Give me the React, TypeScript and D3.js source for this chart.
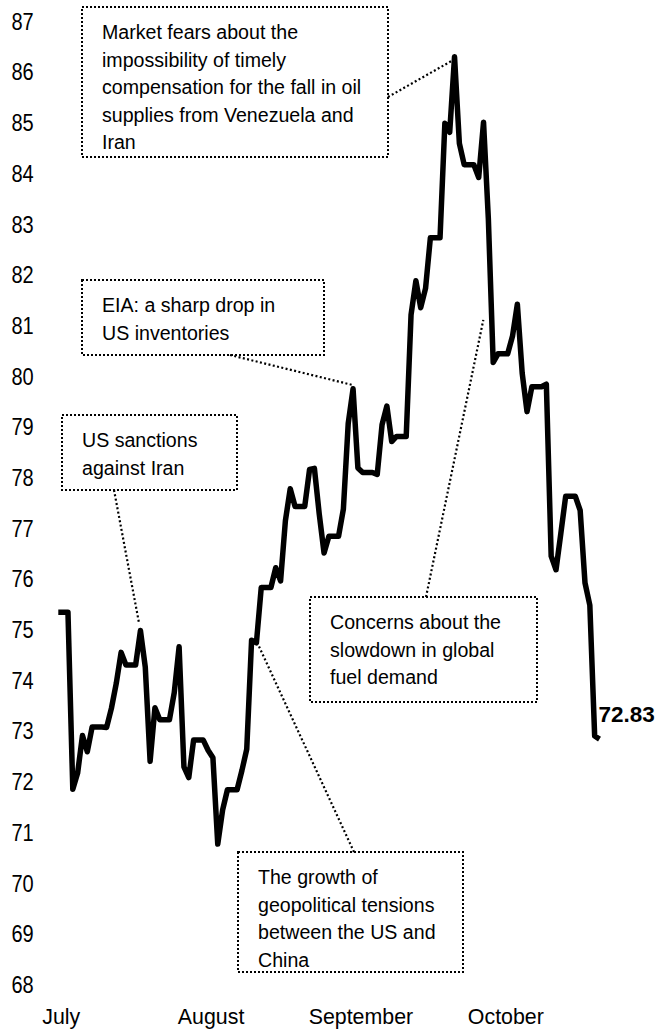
import React from "react";
import * as d3 from "d3";

// ---- data ----
const START_DATE = "2018-07-13"; // first point, one value per calendar day
const prices: number[] = [
  75.33, 75.33, 75.33, 71.84, 72.16, 72.9, 72.58, 73.07, 73.07, 73.07,
  73.06, 73.44, 73.93, 74.54, 74.29, 74.29, 74.29, 74.97, 74.25, 72.39,
  73.45, 73.21, 73.21, 73.21, 73.75, 74.65, 72.28, 72.07, 72.81, 72.81,
  72.81, 72.61, 72.46, 70.76, 71.43, 71.83, 71.83, 71.83, 72.21, 72.63,
  74.78, 74.73, 75.82, 75.82, 75.82, 76.21, 75.95, 77.14, 77.77, 77.42,
  77.42, 77.42, 78.15, 78.17, 77.27, 76.5, 76.83, 76.83, 76.83, 77.37,
  79.06, 79.74, 78.18, 78.09, 78.09, 78.09, 78.05, 79.03, 79.4, 78.7,
  78.8, 78.8, 78.8, 81.2, 81.87, 81.34, 81.72, 82.72, 82.72, 82.72,
  84.98, 84.8, 86.29, 84.58, 84.16, 84.16, 84.16, 83.91, 85.0, 83.09,
  80.26, 80.43, 80.43, 80.43, 80.78, 81.41, 80.05, 79.29, 79.78, 79.78,
  79.78, 79.83, 76.44, 76.17, 76.89, 77.62, 77.62, 77.62, 77.34, 75.91,
  75.47, 72.89, 72.83,
];
const yTicks = [68, 69, 70, 71, 72, 73, 74, 75, 76, 77, 78, 79, 80, 81, 82, 83, 84, 85, 86, 87];
const monthTickDates = ["2018-07-13", "2018-08-13", "2018-09-13", "2018-10-13"];
const monthLabels = ["July", "August", "September", "October"];
const lastValueLabel = "72.83";

const noteTexts: string[][] = [
  [
    "Market fears about the",
    "impossibility of timely",
    "compensation for the fall in oil",
    "supplies from Venezuela and",
    "Iran",
  ],
  ["EIA: a sharp drop in", "US inventories"],
  ["US sanctions", "against Iran"],
  ["Concerns about the", "slowdown in global", "fuel demand"],
  ["The growth of", "geopolitical tensions", "between the US and", "China"],
];
// where each connector points to on the chart (date, price)
const noteTargets: [string, number][] = [
  ["2018-10-02T10:00:00Z", 86.21],
  ["2018-09-11T17:00:00Z", 79.82],
  ["2018-07-29T16:00:00Z", 75.14],
  ["2018-10-08T23:00:00Z", 81.1],
  ["2018-08-23T09:00:00Z", 74.69],
];

// ---- layout ----
const W = 657;
const H = 1029;
const FONT = "'Liberation Sans', Arial, Helvetica, sans-serif";

const boxes = [
  { x0: 82, y0: 7, x1: 388, y1: 157, from: [388, 97] },
  { x0: 82, y0: 280, x1: 324, y1: 355, from: [230, 355] },
  { x0: 62, y0: 415, x1: 237, y1: 490, from: [114, 490] },
  { x0: 310, y0: 597, x1: 537, y1: 702, from: [426, 597] },
  { x0: 238, y0: 852, x1: 463, y1: 972, from: [354, 852] },
];

export default function App() {
  const start = new Date(START_DATE + "T00:00:00Z");
  const data = prices.map((v, i) => ({
    date: new Date(start.getTime() + i * 86400000),
    value: v,
  }));
  const x = d3
    .scaleUtc()
    .domain([data[0].date, data[data.length - 1].date])
    .range([58.3, 599.5]);
  const y = d3.scaleLinear().domain([68, 87]).range([983.9, 20.8]);

  const line = d3
    .line<{ date: Date; value: number }>()
    .x((d) => x(d.date))
    .y((d) => y(d.value));

  const last = data[data.length - 1];

  return (
    <svg
      width={W}
      height={H}
      style={{ position: "absolute", left: 0, top: 0, background: "#fff" }}
      fontFamily={FONT}
    >
      <rect width={W} height={H} fill="#fff" />
      {/* y tick labels */}
      {yTicks.map((t) => (
        <text
          key={t}
          transform={`translate(22.5,${y(t) + 1}) scale(0.87,1)`}
          textAnchor="middle"
          dominantBaseline="central"
          fontSize={23}
          fill="#000"
        >
          {t}
        </text>
      ))}
      {/* month labels */}
      {monthTickDates.map((d, i) => (
        <text
          key={d}
          transform={`translate(${x(new Date(d + "T00:00:00Z")) + 3},1024) scale(0.93,1)`}
          textAnchor="middle"
          fontSize={23}
          fill="#000"
        >
          {monthLabels[i]}
        </text>
      ))}

      {/* annotation boxes */}
      {boxes.map((b, i) => {
        const [tx, tv] = noteTargets[i];
        const ex = x(new Date(tx));
        const ey = y(tv);
        return (
          <g key={i}>
            <rect
              x={b.x0}
              y={b.y0}
              width={b.x1 - b.x0}
              height={b.y1 - b.y0}
              fill="none"
              stroke="#000"
              strokeWidth={2}
              strokeDasharray="2 2"
            />
            <line
              x1={b.from[0]}
              y1={b.from[1]}
              x2={ex}
              y2={ey}
              stroke="#000"
              strokeWidth={2.2}
              strokeDasharray="2 2.4"
            />
            {noteTexts[i].map((s, j) => (
              <text
                key={j}
                x={b.x0 + 20}
                y={b.y0 + 25 + j * 27.5}
                dominantBaseline="central"
                fontSize={19.6}
                fill="#000"
              >
                {s}
              </text>
            ))}
          </g>
        );
      })}

      {/* price line */}
      <path
        d={line(data) || ""}
        fill="none"
        stroke="#000"
        strokeWidth={5.5}
        strokeLinejoin="round"
        strokeLinecap="butt"
      />
      <text
        x={x(last.date) - 1}
        y={y(last.value) - 17}
        fontSize={22.5}
        fontWeight="bold"
        fill="#000"
      >
        {lastValueLabel}
      </text>
    </svg>
  );
}
